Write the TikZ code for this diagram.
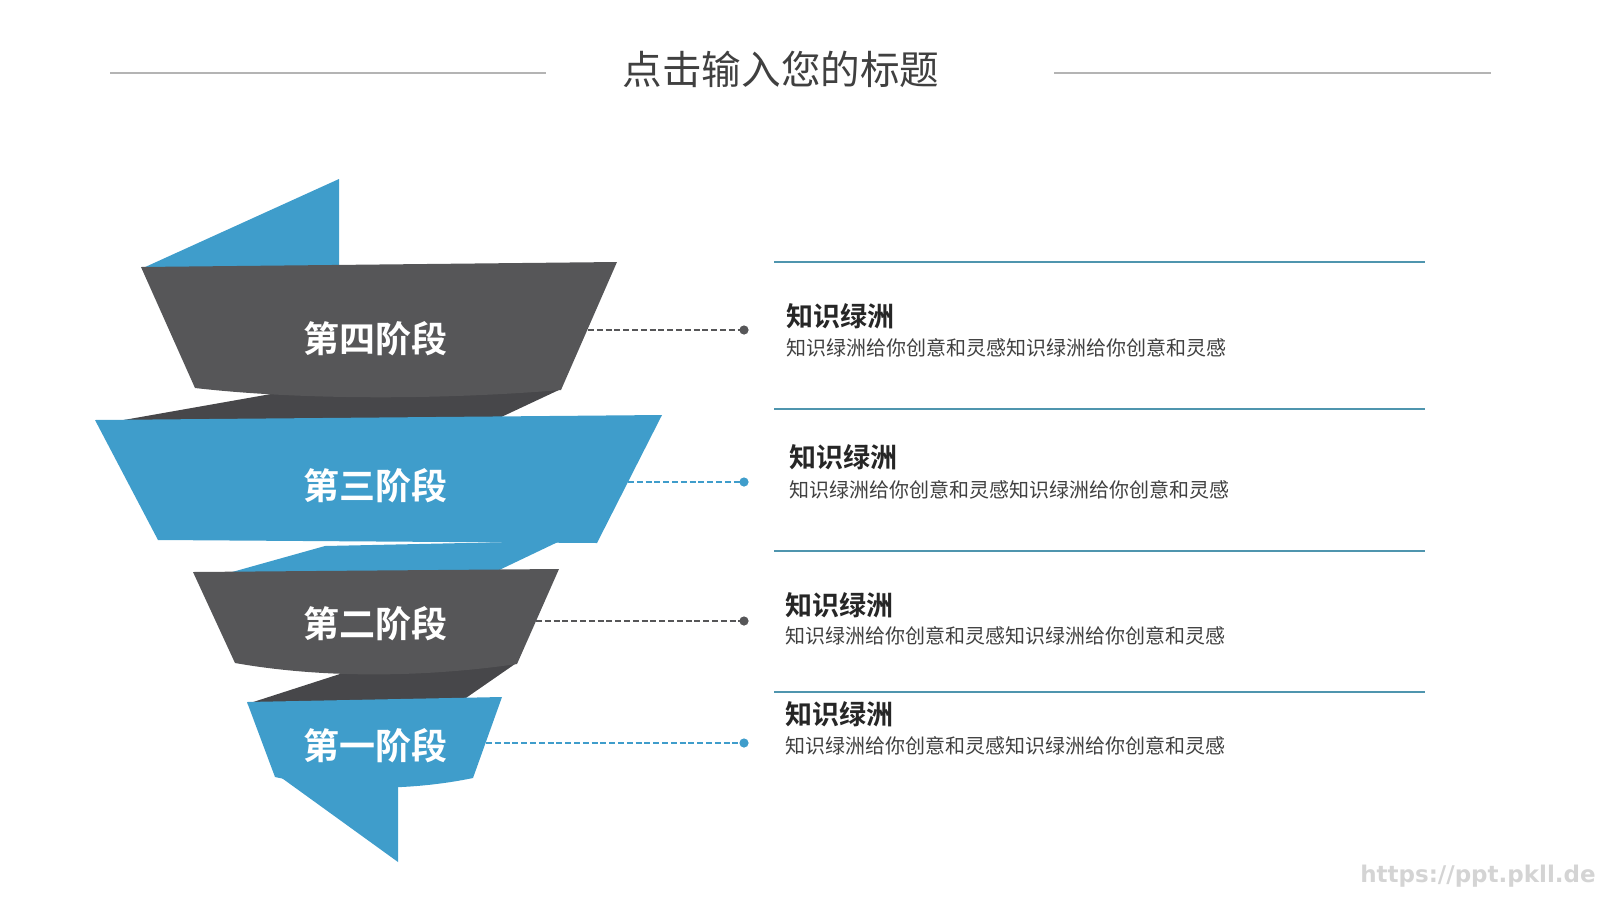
\documentclass[tikz,border=0pt]{standalone}
\usepackage{fontspec}
\setmainfont[BoldFont={Noto Sans CJK SC Bold}]{Noto Sans CJK SC}
\newfontfamily\urlfont{DejaVu Sans}
\usepackage{tikz}
\usetikzlibrary{calc}
\definecolor{bandblue}{HTML}{3F9DCB}
\definecolor{bandgrey}{HTML}{565658}
\definecolor{foldgrey}{HTML}{47474A}
\definecolor{rulecol}{HTML}{4F95AE}
\definecolor{titlegrey}{HTML}{B4B4B4}
\tikzset{
  stage/.style={text=white, font=\fontsize{18}{20}\selectfont\bfseries},
  head/.style={anchor=west, inner sep=0, text=black!85, font=\fontsize{13.5}{15}\selectfont\bfseries},
  desc/.style={anchor=west, inner sep=0, text=black!75, font=\fontsize{10}{12}\selectfont},
  dot/.style={circle, fill=#1, inner sep=0, minimum size=4.6pt},
  link/.style={#1, line width=0.8pt, dash pattern=on 3pt off 1.4pt},
}

\begin{document}
\begin{tikzpicture}[x=0.5pt, y=-0.5pt]
\useasboundingbox (0,0) rectangle (1600,900);
% title
\node[text=black!75, font=\fontsize{19.8}{22}\selectfont] (title) at (781,69) {点击输入您的标题};
\draw[titlegrey, line width=0.75pt] (110,73) -- (546,73);
\draw[titlegrey, line width=0.75pt] (1054,73) -- (1491,73);
% back pieces of the ribbon
\fill[bandblue] (339,179) -- (143,268) -- (339,272) -- cycle;
\fill[foldgrey] (271,394) -- (561,389) -- (497,419) -- (118,421) -- cycle;
\fill[bandblue] (325,546) -- (560,541) -- (495,572) -- (225,574) -- cycle;
\fill[foldgrey] (343,673) -- (515,664) -- (463,700) -- (247,704) -- cycle;
\fill[bandblue] (279,776) -- (398,776) -- (398,862) -- cycle;
% front bands
\fill[bandgrey] (141,267) -- (617,262) -- (561,390) .. controls (440,400) and (300,400) .. (195,388) -- cycle;
\fill[bandblue] (95,420) -- (662,415) -- (597,543) -- (158,540) -- cycle;
\fill[bandgrey] (193,572) -- (559,569) -- (517,664) .. controls (420,678) and (320,678) .. (235,663) -- cycle;
\fill[bandblue] (247,702) -- (502,697) -- (473,778) .. controls (410,791) and (340,791) .. (275,777) -- cycle;
\node[stage] (s4) at (375,339) {第四阶段};
\node[stage] (s3) at (375,486) {第三阶段};
\node[stage] (s2) at (375,624) {第二阶段};
\node[stage] (s1) at (375,746) {第一阶段};
% dashed links
\coordinate (e4) at (588,330); \node[dot=bandgrey] (d4) at (744,330) {};
\coordinate (e3) at (628,482); \node[dot=bandblue] (d3) at (744,482) {};
\coordinate (e2) at (536,621); \node[dot=bandgrey] (d2) at (744,621) {};
\coordinate (e1) at (486,743); \node[dot=bandblue] (d1) at (744,743) {};
\draw[link=bandgrey] (e4) -- (d4.center);
\draw[link=bandblue] (e3) -- (d3.center);
\draw[link=bandgrey] (e2) -- (d2.center);
\draw[link=bandblue] (e1) -- (d1.center);
% text blocks
\foreach \y in {262,409,551,692} \draw[rulecol, line width=1pt] (774,\y) -- (1425,\y);
\node[head] (h4) at (786,316) {知识绿洲};
\node[desc] (t4) at (786,348) {知识绿洲给你创意和灵感知识绿洲给你创意和灵感};
\node[head] (h3) at (789,457) {知识绿洲};
\node[desc] (t3) at (789,490) {知识绿洲给你创意和灵感知识绿洲给你创意和灵感};
\node[head] (h2) at (785,605) {知识绿洲};
\node[desc] (t2) at (785,636) {知识绿洲给你创意和灵感知识绿洲给你创意和灵感};
\node[head] (h1) at (785,714) {知识绿洲};
\node[desc] (t1) at (785,746) {知识绿洲给你创意和灵感知识绿洲给你创意和灵感};
\node[text=black!17, font=\urlfont\fontsize{11.5}{13}\selectfont\bfseries] (url) at (1478,876) {https://ppt.pkll.de};
\end{tikzpicture}
\end{document}
